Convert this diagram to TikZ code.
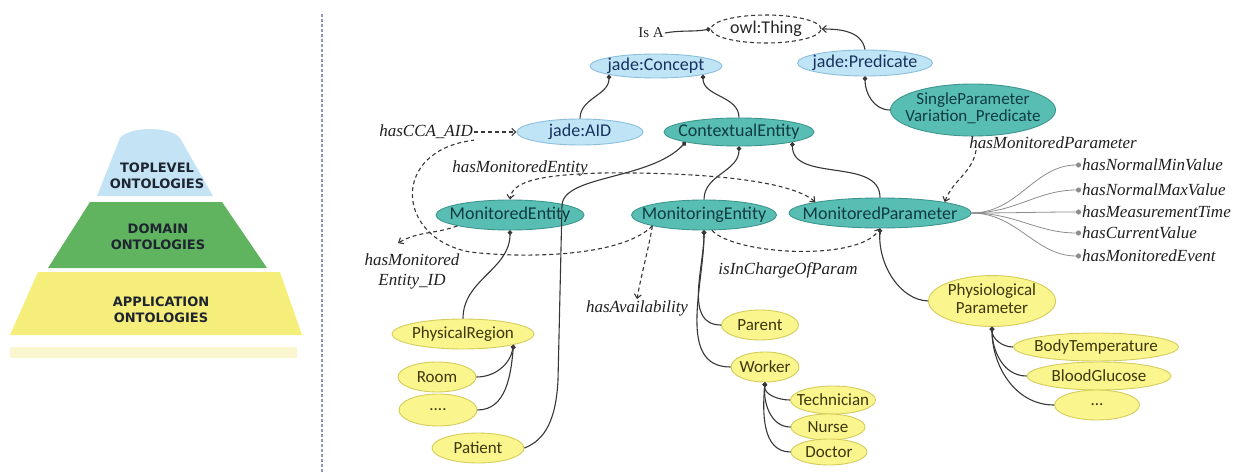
\documentclass[tikz,border=0pt]{standalone}
\usepackage{fontspec}
\setmainfont{Liberation Serif}
\newfontfamily\entfont{Carlito}
\newfontfamily\pyrfont{DejaVu Sans}
\usetikzlibrary{shapes.geometric,arrows.meta}

\definecolor{trait}{RGB}{55,55,55}
\definecolor{cielent}{RGB}{190,228,245}
\definecolor{cielbord}{RGB}{140,190,222}
\definecolor{bleutxt}{RGB}{25,50,95}
\definecolor{sarcelle}{RGB}{88,190,180}
\definecolor{sarcbord}{RGB}{60,150,142}
\definecolor{sarctxt}{RGB}{16,58,68}
\definecolor{jaunent}{RGB}{250,245,140}
\definecolor{jaunbord}{RGB}{212,204,92}
\definecolor{jaunetxt}{RGB}{60,55,12}
\definecolor{pyrbleu}{RGB}{196,228,245}
\definecolor{pyrvert}{RGB}{96,180,96}
\definecolor{pyrjaune}{RGB}{246,238,122}
\definecolor{pyrpale}{RGB}{250,247,208}
\definecolor{pyrtxt}{RGB}{30,36,48}
\definecolor{separ}{RGB}{140,150,188}

% texte centre sans elargir l'ellipse
\newcommand\etq[1]{\makebox[0pt]{#1}}

\begin{document}
\begin{tikzpicture}[x=1pt,y=1pt,>={Straight Barb[length=4pt,width=7pt]},
  sz/.style 2 args={minimum width=#1pt,minimum height=#2pt},
  ent/.style={ellipse,inner sep=0pt,line width=0.9pt,font=\entfont\fontsize{18}{19}\selectfont},
  bleu/.style={ent,fill=cielent,draw=cielbord,text=bleutxt},
  sarc/.style={ent,fill=sarcelle,draw=sarcbord,text=sarctxt},
  jaune/.style={ent,fill=jaunent,draw=jaunbord,text=jaunetxt,font=\entfont\fontsize{17}{18}\selectfont},
  prop/.style={inner sep=1pt,text=black!88,font=\itshape\fontsize{17}{20}\selectfont},
  pyr/.style={align=center,text=pyrtxt,font=\pyrfont\bfseries\fontsize{13}{16}\selectfont},
  isa/.style={draw=trait,line width=1.1pt,-{Circle[length=4.5pt]}},
  attr/.style={draw=black!45,line width=0.8pt,-{Circle[length=5pt]}},
  rel/.style={draw=trait,line width=1.1pt,dash pattern=on 4pt off 3pt}]

\useasboundingbox (0,0) rectangle (1257,-473);

% pyramide
\fill[pyrbleu] (97,-196) -- (120,-138) .. controls (130,-126) and (170,-126) .. (180,-138) -- (213,-196) -- cycle;
\fill[pyrvert] (48,-268) -- (90,-202) -- (222,-202) -- (267,-268) -- cycle;
\fill[pyrjaune] (10,-335) -- (38,-272) -- (280,-272) -- (302,-335) -- cycle;
\fill[pyrpale] (10,-347) rectangle (297,-358);
\node[pyr] (top) at (157,-176) {TOPLEVEL\\ONTOLOGIES};
\node[pyr] (dom) at (158,-237) {DOMAIN\\ONTOLOGIES};
\node[pyr] (app) at (161,-310) {APPLICATION\\ONTOLOGIES};

\draw[separ,line width=2pt,dash pattern=on 3pt off 2pt] (322,-14) -- (322,-473);

% ontologie
\node[ent,sz={110}{28},draw=trait,dash pattern=on 4pt off 3pt,line width=1.1pt,fill=white,text=black!85] (owl) at (766,-29) {\etq{owl:Thing}};
\node[font=\fontsize{15}{16}\selectfont,text=black!85,inner sep=1pt] (isa) at (651,-33) {Is A};
\node[bleu,sz={132}{24}] (jconcept) at (656,-66) {\etq{jade:Concept}};
\node[bleu,sz={135}{26}] (jpred) at (865,-63) {\etq{jade:Predicate}};
\node[sarc,sz={165}{52},font=\entfont\fontsize{17}{17}\selectfont] (spvp) at (973,-110) {\etq{\begin{tabular}{@{}c@{}}SingleParameter\\Variation\_Predicate\end{tabular}}};
\node[bleu,sz={126}{26}] (aid) at (580,-132) {\etq{jade:AID}};
\node[sarc,sz={150}{28}] (ctx) at (739,-132) {\etq{ContextualEntity}};
\node[sarc,sz={148}{30}] (mentity) at (510,-215) {\etq{MonitoredEntity}};
\node[sarc,sz={145}{30}] (mingent) at (704,-215) {\etq{MonitoringEntity}};
\node[sarc,sz={182}{30}] (mparam) at (880,-213) {\etq{MonitoredParameter}};

\node[jaune,sz={142}{30}] (physreg) at (463,-334) {\etq{PhysicalRegion}};
\node[jaune,sz={78}{30}] (room) at (437,-377) {\etq{Room}};
\node[jaune,sz={78}{32}] (autres1) at (438,-410) {\etq{....}};
\node[jaune,sz={92}{30}] (patient) at (478,-448) {\etq{Patient}};
\node[jaune,sz={77}{30}] (parent) at (760,-325) {\etq{Parent}};
\node[jaune,sz={68}{30}] (worker) at (765,-367) {\etq{Worker}};
\node[jaune,sz={85}{28}] (techn) at (833,-400) {\etq{Technician}};
\node[jaune,sz={74}{26}] (nurse) at (828,-427) {\etq{Nurse}};
\node[jaune,sz={76}{26}] (doctor) at (829,-452) {\etq{Doctor}};
\node[jaune,sz={127}{50}] (physio) at (992,-301) {\etq{\begin{tabular}{@{}c@{}}Physiological\\Parameter\end{tabular}}};
\node[jaune,sz={165}{28}] (bodyt) at (1096,-347) {\etq{BodyTemperature}};
\node[jaune,sz={144}{28}] (bloodg) at (1099,-376) {\etq{BloodGlucose}};
\node[jaune,sz={85}{30}] (autres2) at (1097,-405) {\etq{...}};

\node[prop,anchor=east] (cca) at (474,-132) {hasCCA\_AID};
\node[prop] (hme) at (520,-168) {hasMonitoredEntity};
\node[prop] (hmp) at (1053,-143) {hasMonitoredParameter};
\node[prop,align=center] (hmid) at (412,-271) {hasMonitored\\Entity\_ID};
\node[prop] (avail) at (637,-308) {hasAvailability};
\node[prop] (incharge) at (788,-270) {isInChargeOfParam};

% liens is-a
\draw[isa] (isa.east) to[out=10,in=190] (owl.west);
\draw[draw=trait,line width=1.1pt,->] (jpred.north) to[out=100,in=0] (owl.east);
\draw[isa] (aid.north) to[out=90,in=-90] (jconcept.south west);
\draw[isa] (ctx.north) to[out=90,in=-90] (jconcept.south east);
\draw[isa] (spvp.west) to[out=180,in=-90] (jpred.south);
\draw[isa] (mingent.north) to[out=90,in=-90] (ctx.south);
\draw[isa] (mparam.north) to[out=90,in=-90] (ctx.south east);
\draw[isa] (patient.east) .. controls (545,-440) and (556,-420) .. (558,-380) -- (562,-205) .. controls (564,-175) and (650,-180) .. (ctx.south west);
\draw[isa] (physreg.north) to[out=90,in=-90] (mentity.south);
\draw[isa] (room.east) to[out=0,in=-100] (physreg.south east);
\draw[isa] (autres1.east) to[out=0,in=-95] (physreg.south east);
\draw[isa] (parent.west) to[out=180,in=-90] (mingent.south);
\draw[isa] (worker.west) to[out=180,in=-90] (mingent.south);
\foreach \f in {techn,nurse,doctor} \draw[isa] (\f.west) to[out=180,in=-95] (worker.south);
\foreach \f in {bodyt,bloodg,autres2} \draw[isa] (\f.west) to[out=180,in=-90] (physio.south);
\draw[isa] (physio.west) .. controls (900,-300) and (878,-265) .. (mparam.south);

% proprietes
\draw[rel,->] (cca.east) -- (aid.west);
\draw[rel] (mingent.south west) .. controls (620,-258) and (520,-258) .. (470,-252) .. controls (395,-238) and (390,-150) .. (cca.south east);
\draw[rel,<->] (mparam.north west) .. controls (790,-180) and (700,-172) .. (600,-173) .. controls (545,-175) and (512,-180) .. (mentity.north);
\draw[rel,->] (mentity.south west) to[out=200,in=30] ([xshift=-14pt,yshift=9pt]hmid.north);
\draw[rel,->] (mingent.south west) to[out=-100,in=80] (avail.north);
\draw[rel,->] ([xshift=8pt]mingent.south) .. controls (735,-255) and (860,-262) .. (mparam.south);
\draw[rel,->] ([xshift=8pt]hmp.south west) to[out=-100,in=70] (mparam.north east);

\foreach \nom/\y [count=\i] in {hasNormalMinValue/165,hasNormalMaxValue/190,hasMeasurementTime/212,hasCurrentValue/233,hasMonitoredEvent/256} {
  \node[prop,anchor=west] (att\i) at (1081,-\y) {\nom};
  \draw[attr] (mparam.east) to[out=0,in=180] (att\i.west);
}
\end{tikzpicture}
\end{document}
